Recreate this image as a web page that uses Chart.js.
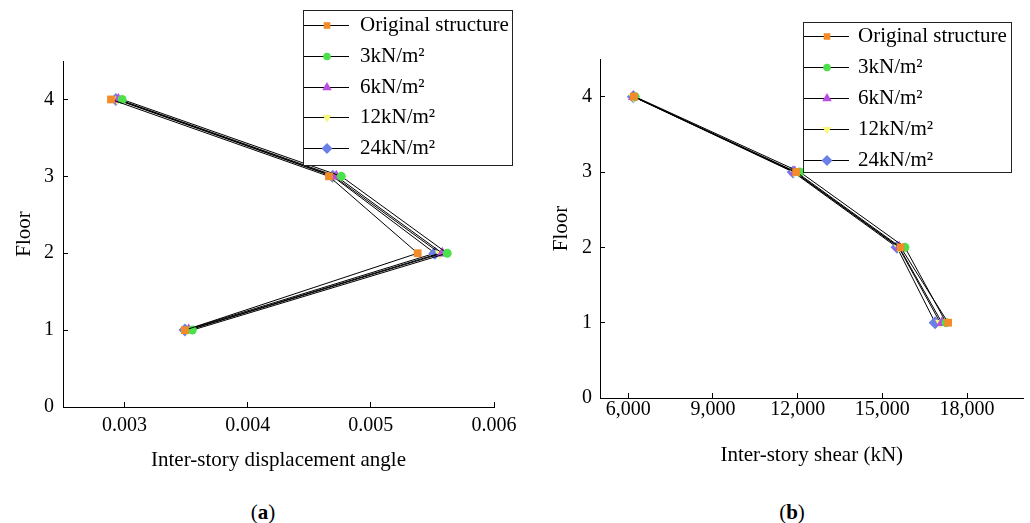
<!DOCTYPE html>
<html>
<head>
<meta charset="utf-8">
<script src="https://cdn.jsdelivr.net/npm/chart.js@4.4.1/dist/chart.umd.min.js"></script>
<style>
  body { margin: 0; background: #fff; width: 1030px; height: 523px; overflow: hidden; position: relative; font-family: "Liberation Serif", serif; }
  canvas { position: absolute; top: 0; }
  #chartA { left: 0; }
  #chartB { left: 520px; }
  .cap { position: absolute; top: 500px; font-size: 21px; color: #000; transform: translateX(-50%); }
</style>
</head>
<body>
<canvas id="chartB" width="510" height="472"></canvas>
<canvas id="chartA" width="530" height="477"></canvas>
<div class="cap" style="left:263px">(<b>a</b>)</div>
<div class="cap" style="left:792px">(<b>b</b>)</div>
<script>
// floors, bottom to top
const floors = [1, 2, 3, 4];
const seriesNames = ['Original structure', '3kN/m²', '6kN/m²', '12kN/m²', '24kN/m²'];

// (a) inter-story displacement angle, per floor 1..4
const driftOriginal = [0.00349, 0.00538, 0.00466, 0.00289];
const drift3 = [0.00355, 0.00562, 0.00476, 0.00298];
const drift6 = [0.00352, 0.00558, 0.00472, 0.00295];
const drift12 = [0.00351, 0.00556, 0.00470, 0.00294];
const drift24 = [0.00349, 0.00552, 0.00469, 0.00293];

// (b) inter-story shear (kN), per floor 1..4
const shearOriginal = [17330, 15650, 11950, 6200];
const shear3 = [17260, 15800, 12080, 6240];
const shear6 = [17110, 15600, 11900, 6190];
const shear12 = [17050, 15580, 11880, 6190];
const shear24 = [16870, 15520, 11840, 6180];

const xTicksA = [0.003, 0.004, 0.005, 0.006];
const xTicksB = [6000, 9000, 12000, 15000, 18000];
const yTicks = [0, 1, 2, 3, 4];

const markerColors = ['#F28C28', '#4CE04C', '#B84FE0', '#F7F77A', '#6A80E8'];
const markerStyles = ['rect', 'circle', 'triangle', 'triangle', 'rectRot'];
const markerRotation = [0, 0, 0, 180, 0];
const markerRadius = [5.5, 4.5, 6.5, 6, 6.5];

const serif = '"Liberation Serif", "Times New Roman", serif';

function makeDatasets(seriesList) {
  return seriesList.map((vals, i) => ({
    label: seriesNames[i],
    data: floors.map((f, k) => ({ x: vals[k], y: f })),
    borderColor: '#000',
    borderWidth: 1,
    pointStyle: markerStyles[i],
    pointRotation: markerRotation[i],
    pointRadius: markerRadius[i],
    pointBackgroundColor: markerColors[i],
    pointBorderWidth: 0,
    tension: 0,
    clip: false
  }));
}

const boxLegend = {
  id: 'boxLegend',
  afterDraw(chart, args, opts) {
    const ctx = chart.ctx;
    ctx.save();
    ctx.fillStyle = '#fff';
    ctx.fillRect(opts.x, opts.y, opts.w, opts.h);
    ctx.strokeStyle = '#222';
    ctx.lineWidth = 1;
    ctx.strokeRect(opts.x + 0.5, opts.y + 0.5, opts.w, opts.h);
    ctx.font = '21px ' + serif;
    ctx.textBaseline = 'middle';
    chart.data.datasets.forEach((ds, i) => {
      const y = Math.round(opts.y + opts.first + i * opts.step) + 0.5;
      ctx.strokeStyle = '#000';
      ctx.beginPath();
      ctx.moveTo(opts.x + 1, y);
      ctx.lineTo(opts.x + 46, y);
      ctx.stroke();
      ctx.fillStyle = ds.pointBackgroundColor;
      if (Chart.helpers && Chart.helpers.drawPoint) {
        Chart.helpers.drawPoint(ctx, {
          pointStyle: ds.pointStyle, rotation: ds.pointRotation,
          radius: ds.pointRadius * 0.85, borderWidth: 0
        }, opts.x + 24, y);
      } else {
        ctx.fillRect(opts.x + 20, y - 4, 8, 8);
      }
      ctx.fillStyle = '#000';
      ctx.fillText(ds.label, opts.x + opts.textX, y);
    });
    ctx.restore();
  }
};

function makeChart(id, datasets, cfg) {
  return new Chart(document.getElementById(id), {
    type: 'line',
    data: { datasets: datasets },
    plugins: [boxLegend],
    options: {
      responsive: false,
      animation: false,
      layout: { padding: cfg.padding },
      plugins: {
        legend: { display: false },
        tooltip: { enabled: false },
        boxLegend: cfg.legend
      },
      scales: {
        x: {
          type: 'linear',
          min: cfg.xMin,
          max: cfg.xMax,
          afterBuildTicks: s => { s.ticks = cfg.xTicks.map(v => ({ value: v })); },
          afterFit: s => { s.height = cfg.xHeight; },
          border: { color: '#000', width: 1 },
          grid: { drawOnChartArea: false, tickLength: -5, color: '#000', tickColor: '#000' },
          ticks: { color: '#000', font: { family: serif, size: 20 }, padding: cfg.xPad, callback: cfg.xFmt, maxRotation: 0, autoSkip: false },
          title: { display: true, text: cfg.xTitle, color: '#000', font: { family: serif, size: 21 }, padding: 4 }
        },
        y: {
          type: 'linear',
          min: 0,
          max: 4.5,
          afterBuildTicks: s => { s.ticks = yTicks.map(v => ({ value: v })); },
          afterFit: s => { s.width = cfg.yWidth; },
          border: { color: '#000', width: 1 },
          grid: { drawOnChartArea: false, tickLength: -5, color: '#000', tickColor: '#000' },
          ticks: { color: '#000', font: { family: serif, size: 20 }, padding: cfg.yPad },
          title: { display: true, text: 'Floor', color: '#000', font: { family: serif, size: 21 }, padding: 4 }
        }
      }
    }
  });
}

makeChart('chartA', makeDatasets([driftOriginal, drift3, drift6, drift12, drift24]), {
  padding: { left: 8, top: 61, right: 36, bottom: 0 },
  xMin: 0.0025, xMax: 0.006, xTicks: xTicksA, xHeight: 70, xPad: 12, yWidth: 55, yPad: 14,
  xFmt: v => v.toFixed(3),
  xTitle: 'Inter-story displacement angle',
  legend: { x: 303, y: 10, w: 209, h: 155, first: 15, step: 30.8, textX: 57 }
});

makeChart('chartB', makeDatasets([shearOriginal, shear3, shear6, shear12, shear24]), {
  padding: { left: 25, top: 59, right: 4, bottom: 0 },
  xMin: 5000, xMax: 20000, xTicks: xTicksB, xHeight: 74, xPad: 5, yWidth: 55, yPad: 13,
  xFmt: v => v.toLocaleString('en-US'),
  xTitle: 'Inter-story shear (kN)',
  legend: { x: 283, y: 22, w: 208, h: 150, first: 14, step: 31, textX: 55 }
});
</script>
</body>
</html>
